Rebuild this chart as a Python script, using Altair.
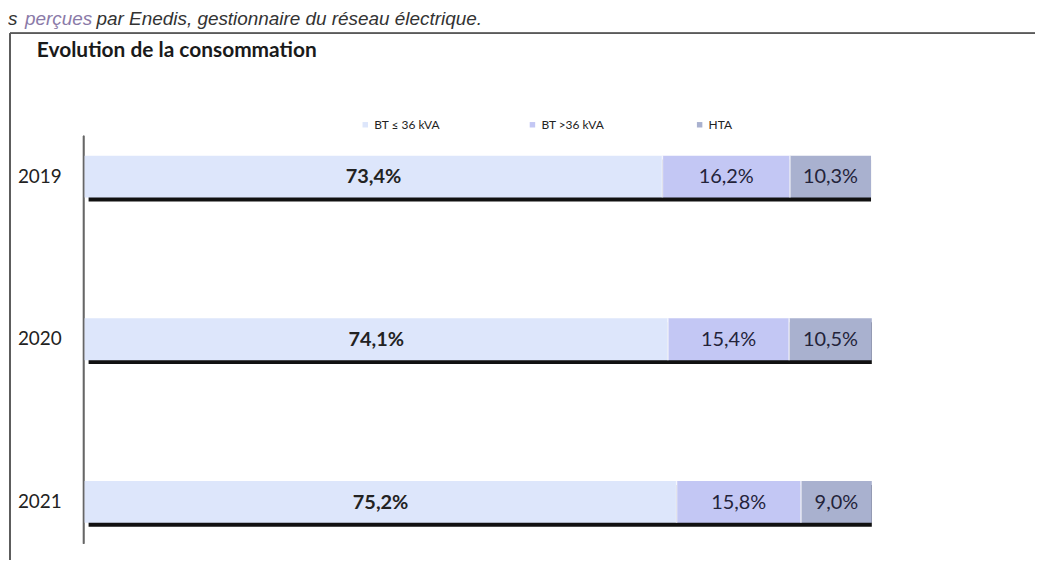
import altair as alt
import pandas as pd

# ---- data ----
years = ["2019", "2020", "2021"]
series = ["BT ≤ 36 kVA", "BT >36 kVA", "HTA"]
bt_small = [73.4, 74.1, 75.2]
bt_large = [16.2, 15.4, 15.8]
hta = [10.3, 10.5, 9.0]
colors = ["#dde6fb", "#c3c7f4", "#a9b1cf"]

title_text = "Evolution de la consommation"
top_text_s = "s"
top_text_a = "perçues"
top_text_b = "par Enedis, gestionnaire du réseau électrique."

# ---- build table ----
rows = []
for i, y in enumerate(years):
    start = 0.0
    for s, v in zip(series, [bt_small[i], bt_large[i], hta[i]]):
        rows.append({
            "year": y, "serie": s, "value": v,
            "start": start, "end": start + v, "mid": start + v / 2,
            "label": f"{v:.1f}%".replace(".", ","),
            "first": s == series[0],
        })
        start += v
df = pd.DataFrame(rows)
tot = df.groupby("year", as_index=False)["end"].max().rename(columns={"end": "total"})
tot["zero"] = 0.0
seps = df[df["serie"] != series[-1]]

W, H = 1030, 528
FONT = "Lato"

xscale = alt.Scale(domain=[-9.48, 120.73], nice=False, zero=False)
yscale = alt.Scale(domain=years, range=[123, 492], paddingInner=0.743, paddingOuter=0)
Y = alt.Y("year:N", scale=yscale, axis=None)

frame_top = alt.Chart(tot).mark_rule(color="#5a5a5a", strokeWidth=1.5).encode(
    x=alt.value(0), x2=alt.value(W + 5), y=alt.value(0))
frame_left = alt.Chart(tot).mark_rule(color="#5a5a5a", strokeWidth=1.5).encode(
    x=alt.value(0), y=alt.value(0), y2=alt.value(H + 10))
axis_line = alt.Chart(tot).mark_rule(color="#666666", strokeWidth=1.5).encode(
    x=alt.value(74), y=alt.value(103), y2=alt.value(513))

shadow = alt.Chart(tot).mark_bar(color="#111111", xOffset=4, yOffset=4).encode(
    x=alt.X("zero:Q", scale=xscale, axis=None), x2="total:Q", y=Y)

bars = alt.Chart(df).mark_bar().encode(
    x=alt.X("start:Q", scale=xscale, axis=None),
    x2="end:Q",
    y=Y,
    color=alt.Color("serie:N", scale=alt.Scale(domain=series, range=colors),
                    sort=series,
                    legend=alt.Legend(orient="none", legendX=351, legendY=86,
                                      direction="horizontal", columns=3, gridAlign="all",
                                      columnPadding=86, title=None, symbolType="square",
                                      symbolSize=30, symbolStrokeWidth=0,
                                      labelFontSize=12, labelFont=FONT,
                                      labelColor="#222222", labelOffset=3)),
)

separators = alt.Chart(seps).mark_tick(color="white", thickness=1.5, size=42).encode(
    x=alt.X("end:Q", scale=xscale, axis=None), y=Y)

labels_first = alt.Chart(df[df["first"]]).mark_text(
    font=FONT, fontSize=20, fontWeight="bold", color="#222222", baseline="middle", dy=1).encode(
    x=alt.X("mid:Q", scale=xscale, axis=None), y=Y, text="label:N")
labels_other = alt.Chart(df[~df["first"]]).mark_text(
    font=FONT, fontSize=20, color="#23233a", baseline="middle", dy=1).encode(
    x=alt.X("mid:Q", scale=xscale, axis=None), y=Y, text="label:N")

year_labels = alt.Chart(tot).mark_text(
    font=FONT, fontSize=19, color="#222222", align="right", baseline="middle").encode(
    x=alt.value(52), y=Y, text="year:N")

title = alt.Chart(tot.head(1)).mark_text(
    font=FONT, fontSize=21, fontWeight="bold", color="#1a1a1a", align="left",
    baseline="alphabetic").encode(
    x=alt.value(27), y=alt.value(24), text=alt.value(title_text))

TOP_FS = 19
top_s = alt.Chart(tot.head(1)).mark_text(
    font="Liberation Sans", fontSize=TOP_FS, fontStyle="italic", color="#333333",
    align="left", baseline="alphabetic").encode(
    x=alt.value(-2), y=alt.value(-8), text=alt.value(top_text_s))
top_a = alt.Chart(tot.head(1)).mark_text(
    font="Liberation Sans", fontSize=TOP_FS, fontStyle="italic", color="#8a7aa8",
    align="left", baseline="alphabetic").encode(
    x=alt.value(15), y=alt.value(-8), text=alt.value(top_text_a))
top_b = alt.Chart(tot.head(1)).mark_text(
    font="Liberation Sans", fontSize=TOP_FS, fontStyle="italic", color="#333333",
    align="left", baseline="alphabetic").encode(
    x=alt.value(87), y=alt.value(-8), text=alt.value(top_text_b))

chart = alt.layer(
    frame_top, frame_left, axis_line, shadow, bars, separators, labels_first, labels_other,
    year_labels, title, top_s, top_a, top_b,
).properties(
    width=W, height=H,
    autosize=alt.AutoSizeParams(type="none"),
    padding={"left": 2, "top": 24, "right": 0, "bottom": 0},
).configure_view(stroke=None)

chart.save("out.html", embed_options={"renderer": "svg", "actions": False})
